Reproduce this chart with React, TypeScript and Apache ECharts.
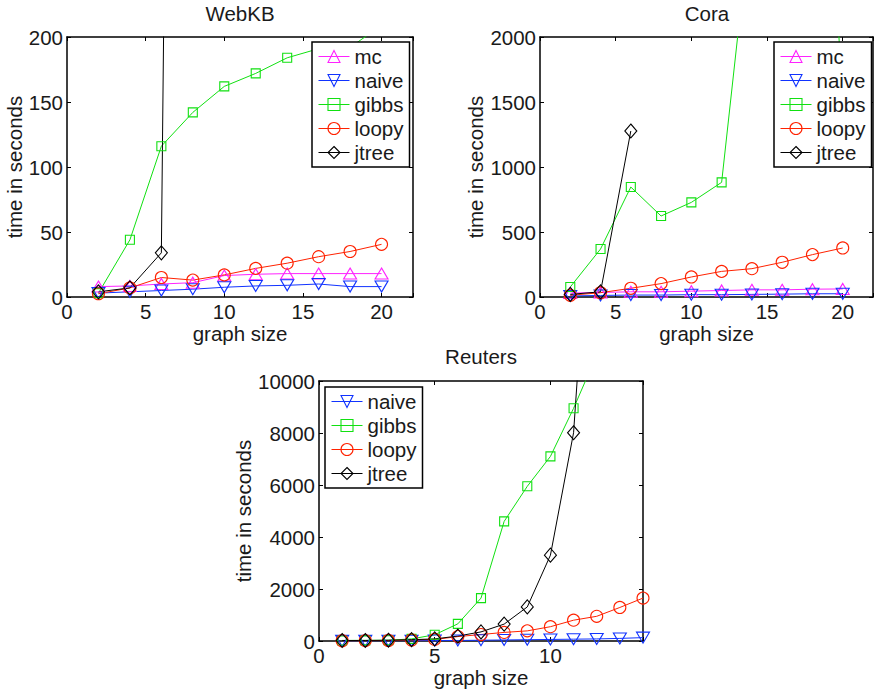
import React, { useEffect, useRef } from "react";
import * as echarts from "echarts";

// ---------- data ----------
const webkbX = [2, 4, 6, 8, 10, 12, 14, 16, 18, 20];
const webkbMc = [8, 8.5, 10, 11, 16.5, 17.5, 18, 18, 18, 18];
const webkbNaive = [3, 4, 5, 6, 7.5, 8.5, 9, 10, 8, 8];
const webkbGibbs = [3, 44, 116, 142, 162, 172, 184, 191, 192, 209];
const webkbLoopy = [2.5, 7, 15, 13, 17, 22, 26, 31, 35, 40.5];
const webkbJtree = [4, 7, 34, 2400];

const coraX = [2, 4, 6, 8, 10, 12, 14, 16, 18, 20];
const coraMc = [30, 35, 40, 40, 45, 50, 55, 55, 60, 62];
const coraNaive = [8, 12, 15, 15, 18, 18, 20, 22, 25, 25];
const coraGibbs = [77, 369, 846, 623, 728, 882, 3000, 4500, 5500, 1500];
const coraLoopy = [13, 33, 67, 103, 154, 197, 218, 267, 326, 377];
const coraJtree = [20, 40, 1277];

const reutersX = [1, 2, 3, 4, 5, 6, 7, 8, 9, 10, 11, 12, 13, 14];
const reutersNaive = [5, 5, 8, 10, 15, 20, 30, 40, 50, 60, 70, 80, 100, 130];
const reutersGibbs = [20, 25, 30, 80, 240, 660, 1650, 4600, 5950, 7100, 8950, 11000];
const reutersLoopy = [10, 15, 20, 40, 60, 170, 250, 330, 390, 550, 800, 950, 1290, 1650];
const reutersJtree = [20, 20, 30, 50, 80, 190, 350, 650, 1310, 3300, 8010, 21000];

const titles = ["WebKB", "Cora", "Reuters"];
const xAxisName = "graph size";
const yAxisName = "time in seconds";
const legendWebkb = ["mc", "naive", "gibbs", "loopy", "jtree"];
const legendCora = ["mc", "naive", "gibbs", "loopy", "jtree"];
const legendReuters = ["naive", "gibbs", "loopy", "jtree"];

// ---------- styles ----------
const FONT = "'Liberation Sans', Arial, Helvetica, sans-serif";
const TXT = "#1a1a1a";
const FS = 20.5;

const STYLES: Record<string, { color: string; symbol: string; size: any; rotate: number }> = {
  mc: { color: "#ff22ff", symbol: "triangle", size: [13, 11], rotate: 0 },
  naive: { color: "#1133ff", symbol: "triangle", size: [13, 11], rotate: 180 },
  gibbs: { color: "#11e011", symbol: "rect", size: 9, rotate: 0 },
  loopy: { color: "#ff2200", symbol: "circle", size: 12, rotate: 0 },
  jtree: { color: "#000000", symbol: "diamond", size: [12, 14], rotate: 0 },
};

function pairs(xs: number[], ys: number[]) {
  return ys.map((y, i) => [xs[i], y]);
}

function series(name: string, xs: number[], ys: number[], axisIndex: number) {
  const s = STYLES[name];
  return {
    type: "line",
    name,
    xAxisIndex: axisIndex,
    yAxisIndex: axisIndex,
    data: pairs(xs, ys),
    symbol: s.symbol,
    symbolSize: s.size,
    symbolRotate: s.rotate,
    showAllSymbol: true,
    clip: true,
    lineStyle: { color: s.color, width: 1 },
    itemStyle: { color: "transparent", borderColor: s.color, borderWidth: 1.1 },
    emphasis: { disabled: true },
    z: 3,
  };
}

const axisLineStyle = { show: true, onZero: false, lineStyle: { color: "#000", width: 1.5 } };
const tickStyle = { show: true, inside: true, length: 4, lineStyle: { color: "#000", width: 1 } };
const labelStyle = { fontSize: FS, color: TXT, fontFamily: FONT };

function xAxes(gridIndex: number, max: number) {
  return [
    {
      type: "value",
      gridIndex,
      min: 0,
      max,
      interval: 5,
      position: "bottom",
      name: xAxisName,
      nameLocation: "middle",
      nameGap: 25,
      nameTextStyle: labelStyle,
      axisLine: axisLineStyle,
      axisTick: tickStyle,
      axisLabel: {
        ...labelStyle,
        margin: 4,
        formatter: (v: number) => (v % 5 === 0 ? String(v) : ""),
      },
      splitLine: { show: false },
    },
    {
      type: "value",
      gridIndex,
      min: 0,
      max,
      interval: 5,
      position: "top",
      axisLine: axisLineStyle,
      axisTick: tickStyle,
      axisLabel: { show: false },
      splitLine: { show: false },
    },
  ];
}

function yAxes(gridIndex: number, max: number, interval: number, nameGap: number) {
  return [
    {
      type: "value",
      gridIndex,
      min: 0,
      max,
      interval,
      position: "left",
      name: yAxisName,
      nameLocation: "middle",
      nameRotate: 90,
      nameGap,
      nameTextStyle: labelStyle,
      axisLine: axisLineStyle,
      axisTick: tickStyle,
      axisLabel: { ...labelStyle, margin: 4, formatter: (v: number) => String(v) },
      splitLine: { show: false },
    },
    {
      type: "value",
      gridIndex,
      min: 0,
      max,
      interval,
      position: "right",
      axisLine: axisLineStyle,
      axisTick: tickStyle,
      axisLabel: { show: false },
      splitLine: { show: false },
    },
  ];
}

function legend(data: string[], left: number, top: number) {
  return {
    data,
    orient: "vertical",
    left,
    top,
    itemWidth: 31,
    itemHeight: 15,
    itemGap: 3,
    padding: [4, 6, 4, 6],
    borderColor: "#000",
    borderWidth: 1.5,
    borderRadius: 0,
    backgroundColor: "#fff",
    selectedMode: false,
    textStyle: { fontSize: FS, color: TXT, fontFamily: FONT, padding: [0, 0, 0, 0] },
    itemStyle: { color: "transparent", borderWidth: 1.1 },
    lineStyle: { width: 1 },
    z: 10,
  };
}

function titleText(text: string, x: number, y: number) {
  return {
    type: "text",
    x,
    y,
    style: {
      text,
      align: "center",
      verticalAlign: "top",
      fontSize: FS,
      fontFamily: FONT,
      fill: TXT,
    },
  };
}

export default function App() {
  const ref = useRef<HTMLDivElement>(null);
  useEffect(() => {
    if (!ref.current) return;
    const chart = echarts.init(ref.current, undefined, { renderer: "svg" });
    const option: any = {
      animation: false,
      backgroundColor: "#fff",
      grid: [
        { left: 67, top: 37, width: 346, height: 260 },
        { left: 540, top: 37, width: 335, height: 260 },
        { left: 319, top: 381, width: 324, height: 260 },
      ],
      xAxis: [...xAxes(0, 22), ...xAxes(1, 22), ...xAxes(2, 14)],
      yAxis: [
        ...yAxes(0, 200, 50, 40),
        ...yAxes(1, 2000, 500, 53),
        ...yAxes(2, 10000, 2000, 62),
      ],
      legend: [
        legend(legendWebkb, 312, 42),
        legend(legendCora, 774, 42),
        legend(legendReuters, 325, 387),
      ],
      graphic: [
        titleText(titles[0], 240, 2.5),
        titleText(titles[1], 707, 2.5),
        titleText(titles[2], 481, 346),
      ],
      series: [
        series("mc", webkbX, webkbMc, 0),
        series("naive", webkbX, webkbNaive, 0),
        series("gibbs", webkbX, webkbGibbs, 0),
        series("loopy", webkbX, webkbLoopy, 0),
        series("jtree", webkbX, webkbJtree, 0),
        series("mc", coraX, coraMc, 2),
        series("naive", coraX, coraNaive, 2),
        series("gibbs", coraX, coraGibbs, 2),
        series("loopy", coraX, coraLoopy, 2),
        series("jtree", coraX, coraJtree, 2),
        series("naive", reutersX, reutersNaive, 4),
        series("gibbs", reutersX, reutersGibbs, 4),
        series("loopy", reutersX, reutersLoopy, 4),
        series("jtree", reutersX, reutersJtree, 4),
      ],
    };
    chart.setOption(option);
    return () => chart.dispose();
  }, []);
  return (
    <div
      ref={ref}
      style={{ position: "fixed", left: 0, top: 0, width: 876, height: 691, background: "#fff" }}
    />
  );
}
